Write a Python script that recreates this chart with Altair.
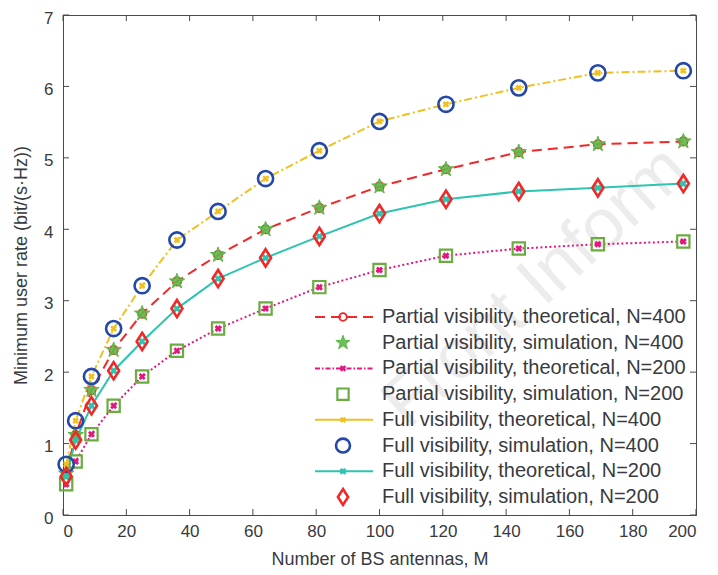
import altair as alt
import pandas as pd

M = [1, 4, 9, 16, 25, 36, 49, 64, 81, 100, 121, 144, 169, 196]

full_400 = [0.71, 1.32, 1.94, 2.61, 3.21, 3.85, 4.25, 4.71, 5.10, 5.51, 5.75, 5.98, 6.19, 6.22]
part_400 = [0.58, 1.12, 1.75, 2.31, 2.82, 3.27, 3.64, 4.00, 4.30, 4.60, 4.84, 5.08, 5.19, 5.23]
full_200 = [0.54, 1.05, 1.53, 2.02, 2.43, 2.89, 3.31, 3.60, 3.90, 4.22, 4.42, 4.53, 4.58, 4.64]
part_200 = [0.43, 0.75, 1.13, 1.53, 1.94, 2.30, 2.61, 2.89, 3.19, 3.43, 3.63, 3.73, 3.79, 3.83]

legend_labels = [
    "Partial visibility, theoretical, N=400",
    "Partial visibility, simulation, N=400",
    "Partial visibility, theoretical, N=200",
    "Partial visibility, simulation, N=200",
    "Full visibility, theoretical, N=400",
    "Full visibility, simulation, N=400",
    "Full visibility, theoretical, N=200",
    "Full visibility, simulation, N=200",
]

x_ticks = list(range(0, 201, 20))
y_ticks = list(range(0, 8))

W, H = 633, 500
FONT = "Liberation Sans"
AXC = "#4a4a4a"
TXT = "#383a40"

RED = "#f02828"
GREEN = "#5cb848"
PINK = "#e2187e"
SQGREEN = "#6aac40"
GOLD = "#f0c020"
BLUE = "#2448a8"
TEAL = "#2ec4b0"

DIAMOND = "M0,-1.25L0.8,0L0,1.25L-0.8,0Z"
STAR = "M0,-1L0.235,-0.324L0.951,-0.309L0.38,0.124L0.588,0.809L0,0.4L-0.588,0.809L-0.38,0.124L-0.951,-0.309L-0.235,-0.324Z"

series = [
    dict(vals=part_400, color=RED, dash=[10, 6], shape="circle", size=70, filled=False, sw=1.8, angle=0),
    dict(vals=part_400, color=GREEN, dash=None, shape=STAR, size=260, filled=True, sw=0, angle=0, star=True),
    dict(vals=part_200, color=PINK, dash=[2, 2.5], shape="cross", size=50, filled=True, sw=0, angle=45),
    dict(vals=part_200, color=SQGREEN, dash=None, shape="square", size=150, filled=False, sw=2.2, angle=0),
    dict(vals=full_400, color=GOLD, dash=[8, 3, 2, 3], shape="cross", size=45, filled=True, sw=0, angle=45),
    dict(vals=full_400, color=BLUE, dash=None, shape="circle", size=230, filled=False, sw=2.6, angle=0),
    dict(vals=full_200, color=TEAL, dash=[], shape="cross", size=55, filled=True, sw=0, angle=45),
    dict(vals=full_200, color=RED, dash=None, shape=DIAMOND, size=190, filled=False, sw=2.6, angle=0),
]
legend_dash = [[10, 6], None, [5, 2, 1.5, 2], None, [], None, [], None]

xs = alt.Scale(domain=[0, 200], nice=False)
ys = alt.Scale(domain=[0, 7], nice=False)

main_layers = []

wm = alt.Chart(pd.DataFrame({"t": ["Front Inform"]})).mark_text(
    font=FONT, fontSize=70, color="#ececec", align="left", baseline="alphabetic", angle=318
).encode(x=alt.value(345), y=alt.value(415), text="t:N")
main_layers.append(wm)

base_df = pd.DataFrame({"M": M, "v": full_400})
axes = alt.Chart(base_df).mark_point(opacity=0).encode(
    x=alt.X("M:Q", scale=xs, axis=alt.Axis(values=x_ticks, format="d", title="Number of BS antennas, M", grid=False,
                                           ticks=False, tickSize=0, labelPadding=8, titlePadding=11)),
    y=alt.Y("v:Q", scale=ys, axis=alt.Axis(values=y_ticks, format="d", title="Minimum user rate (bit/(s·Hz))", grid=False,
                                           ticks=False, tickSize=0, labelPadding=10, labelOffset=3, titlePadding=13)),
)
main_layers.append(axes)

xt = pd.DataFrame({"t": x_ticks})
yt = pd.DataFrame({"t": y_ticks})
tick_style = dict(color=AXC, strokeWidth=1)
main_layers.append(alt.Chart(xt).mark_rule(**tick_style).encode(x=alt.X("t:Q", scale=xs), y=alt.value(H), y2=alt.value(H - 6)))
main_layers.append(alt.Chart(xt).mark_rule(**tick_style).encode(x=alt.X("t:Q", scale=xs), y=alt.value(0), y2=alt.value(6)))
main_layers.append(alt.Chart(yt).mark_rule(**tick_style).encode(y=alt.Y("t:Q", scale=ys), x=alt.value(0), x2=alt.value(6)))
main_layers.append(alt.Chart(yt).mark_rule(**tick_style).encode(y=alt.Y("t:Q", scale=ys), x=alt.value(W), x2=alt.value(W - 6)))

for s in series:
    if s["dash"] is None:
        continue
    df = pd.DataFrame({"M": M, "v": s["vals"]})
    kw = dict(color=s["color"], strokeWidth=2)
    if s["dash"]:
        kw["strokeDash"] = s["dash"]
    main_layers.append(alt.Chart(df).mark_line(**kw).encode(x=alt.X("M:Q", scale=xs), y=alt.Y("v:Q", scale=ys)))


def marker_kw(s, scale=1.0):
    kw = dict(shape=s["shape"], size=s["size"] * scale, opacity=1)
    if s["filled"]:
        kw.update(filled=True, fill=s["color"], strokeWidth=0)
        if s.get("star"):
            kw.update(stroke=s["color"], strokeWidth=1, fillOpacity=0.9)
    else:
        kw.update(filled=False, stroke=s["color"], strokeWidth=s["sw"])
    if s["angle"]:
        kw["angle"] = s["angle"]
    return kw


for s in series:
    df = pd.DataFrame({"M": M, "v": s["vals"]})
    main_layers.append(alt.Chart(df).mark_point(**marker_kw(s)).encode(
        x=alt.X("M:Q", scale=xs), y=alt.Y("v:Q", scale=ys)))

leg_layers = []
ls = alt.Scale(domain=[0, 7], range=[302, 482])
leg_df = pd.DataFrame({"row": list(range(8)), "label": legend_labels})
for i, s in enumerate(series):
    d = leg_df.iloc[[i]]
    if legend_dash[i] is not None:
        kw = dict(color=s["color"], strokeWidth=2)
        if legend_dash[i]:
            kw["strokeDash"] = legend_dash[i]
        leg_layers.append(alt.Chart(d).mark_rule(**kw).encode(
            y=alt.Y("row:Q", scale=ls, axis=None), x=alt.value(252), x2=alt.value(310)))
    leg_layers.append(alt.Chart(d).mark_point(**marker_kw(s, 0.85)).encode(
        y=alt.Y("row:Q", scale=ls, axis=None), x=alt.value(280)))
leg_layers.append(alt.Chart(leg_df).mark_text(font=FONT, fontSize=20, color=TXT, align="left", baseline="middle").encode(
    y=alt.Y("row:Q", scale=ls, axis=None), x=alt.value(319), text="label:N"))

chart = alt.layer(
    alt.layer(*main_layers),
    alt.layer(*leg_layers),
).resolve_scale(y="independent").properties(
    width=W, height=H,
    background="white",
    padding={"left": 55, "top": 7, "right": 12, "bottom": 60},
    autosize=alt.AutoSizeParams(type="none"),
).configure_view(stroke=AXC, strokeWidth=1).configure_axis(
    domainColor=AXC, labelFont=FONT, titleFont=FONT, labelFontSize=17, titleFontSize=18,
    labelColor=TXT, titleColor=TXT, titleFontWeight="normal",
)

chart.save("out.html", embed_options={"renderer": "svg", "actions": False})
